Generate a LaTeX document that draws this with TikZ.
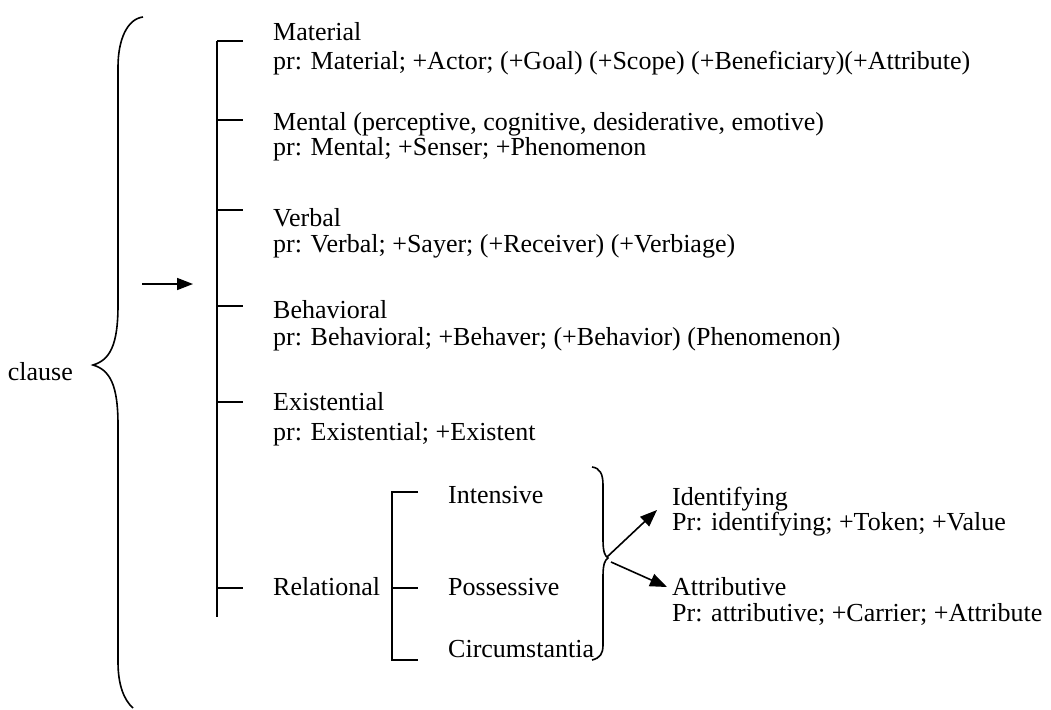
\documentclass[tikz,border=0pt]{standalone}
\usepackage{fontspec}
\setmainfont{Liberation Serif}
\usetikzlibrary{arrows.meta}
\begin{document}
\begin{tikzpicture}[x=1pt,y=-1pt,
  txt/.style={inner sep=0pt, anchor=base west, font=\fontsize{26}{27}\selectfont},
  ln/.style={line width=1.6pt},
  arr/.style={ln, -{Triangle[length=16pt,width=12pt]}},
  sarr/.style={ln, -{Triangle[length=17pt,width=13pt]}}]
\useasboundingbox (0,0) rectangle (1051,709);

% the clause and its large brace
\node[txt, anchor=base east] (clause) at (73,380) {clause};
\draw[ln] (143,17) .. controls (127,19) and (118,40) .. (118,67) -- (118,305)
  .. controls (118,345) and (110,360) .. (93,365)
  .. controls (110,370) and (118,385) .. (118,425) -- (118,662)
  .. controls (118,685) and (124,700) .. (133,708);

% entry arrow
\coordinate (in1) at (142,284);
\coordinate (in2) at (193,284);
\draw[arr] (in1) -- (in2);

% main system line with its ticks
\coordinate (top) at (217,41);
\coordinate (bot) at (217,617);
\draw[ln] (top) -- (bot);
\foreach \y/\n in {41/t1,120/t2,210/t3,306/t4,402/t5,588/t6}{
  \coordinate (\n a) at (217,\y);
  \coordinate (\n b) at (243,\y);
  \draw[ln] (\n a) -- (\n b);
}

% process types
\node[txt] (mat)  at (273,41)  {Material};
\node[txt] (matd) at (273,69)  {pr: Material; +Actor; (+Goal) (+Scope) (+Beneficiary)(+Attribute)};
\node[txt] (men)  at (273,130) {Mental (perceptive, cognitive, desiderative, emotive)};
\node[txt] (mend) at (273,155) {pr: Mental; +Senser; +Phenomenon};
\node[txt] (ver)  at (273,226) {Verbal};
\node[txt] (verd) at (273,252) {pr: Verbal; +Sayer; (+Receiver) (+Verbiage)};
\node[txt] (beh)  at (273,318) {Behavioral};
\node[txt] (behd) at (273,345) {pr: Behavioral; +Behaver; (+Behavior) (Phenomenon)};
\node[txt] (exi)  at (273,410) {Existential};
\node[txt] (exid) at (273,440) {pr: Existential; +Existent};
\node[txt] (rel)  at (273,595) {Relational};

% relational sub-bracket
\coordinate (b1) at (418,492);
\coordinate (b2) at (392,492);
\coordinate (b3) at (392,660);
\coordinate (b4) at (418,660);
\coordinate (b5) at (392,588);
\coordinate (b6) at (418,588);
\draw[ln] (b1) -- (b2) -- (b3) -- (b4);
\draw[ln] (b5) -- (b6);

\node[txt] (int) at (448,503) {Intensive};
\node[txt] (pos) at (448,595) {Possessive};
\node[txt] (cir) at (448,657) {Circumstantia};

% small closing brace
\coordinate (tip) at (608,558);
\draw[ln] (592,467) .. controls (600,468) and (603,474) .. (603,485) -- (603,540)
  .. controls (603,552) and (605,556) .. (tip)
  .. controls (605,560) and (603,564) .. (603,576) -- (603,645)
  .. controls (603,654) and (600,658) .. (592,660);

% identifying / attributive
\node[txt] (idf)  at (672,505) {Identifying};
\node[txt] (idfd) at (672,530) {Pr: identifying; +Token; +Value};
\node[txt] (att)  at (672,595) {Attributive};
\node[txt] (attd) at (672,621) {Pr: attributive; +Carrier; +Attribute};

\coordinate (s1) at (607,557);
\coordinate (e1) at (657,510);
\coordinate (s2) at (611,562);
\coordinate (e2) at (667,587);
\draw[sarr] (s1) -- (e1);
\draw[sarr] (s2) -- (e2);
\end{tikzpicture}
\end{document}
